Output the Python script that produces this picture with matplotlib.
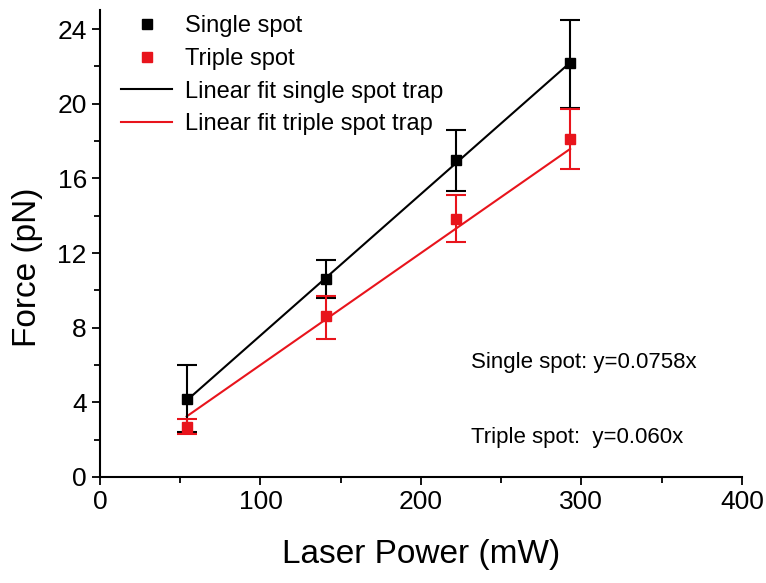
import numpy as np
import matplotlib.pyplot as plt
from matplotlib.lines import Line2D
from matplotlib.ticker import MultipleLocator

plt.rcParams['font.family'] = ['Liberation Sans Narrow', 'Liberation Sans', 'DejaVu Sans']

power = [54, 141, 222, 293]

single_force = [4.2, 10.6, 17.0, 22.2]
single_err_lo = [1.8, 1.0, 1.7, 2.4]
single_err_hi = [1.8, 1.0, 1.6, 2.3]

triple_force = [2.7, 8.6, 13.8, 18.1]
triple_err_lo = [0.4, 1.2, 1.2, 1.6]
triple_err_hi = [0.4, 1.1, 1.3, 1.6]

single_slope = 0.0758
triple_slope = 0.060

black = 'black'
red = '#e8141c'

fig = plt.figure(figsize=(7.66, 5.83), dpi=100)
ax = fig.add_axes([0.1305, 0.182, 0.838, 0.80])

fit_x = np.array([power[0], power[-1]])
ax.plot(fit_x, single_slope * fit_x, color=black, lw=1.5, zorder=2)
ax.plot(fit_x, triple_slope * fit_x, color=red, lw=1.5, zorder=2)

ax.errorbar(power, single_force, yerr=[single_err_lo, single_err_hi], fmt='s', color=black,
            ms=7, capsize=7, capthick=1.5, elinewidth=1.5, zorder=3)
ax.errorbar(power, triple_force, yerr=[triple_err_lo, triple_err_hi], fmt='s', color=red,
            ms=7, capsize=7, capthick=1.5, elinewidth=1.5, zorder=3)

ax.text(231, 6.15, 'Single spot: y=0.0758x', fontsize=16, va='center')
ax.text(231, 2.1, 'Triple spot:  y=0.060x', fontsize=16, va='center')

ax.set_xlim(0, 400)
ax.set_ylim(0, 25)
ax.xaxis.set_major_locator(MultipleLocator(100))
ax.xaxis.set_minor_locator(MultipleLocator(50))
ax.yaxis.set_major_locator(MultipleLocator(4))
ax.yaxis.set_minor_locator(MultipleLocator(2))
ax.tick_params(which='major', direction='out', length=6, width=1.3, labelsize=19)
ax.tick_params(which='minor', direction='out', length=4, width=1.3)
for side in ['top', 'right']:
    ax.spines[side].set_visible(False)
for side in ['left', 'bottom']:
    ax.spines[side].set_linewidth(1.5)

ax.set_xlabel('Laser Power (mW)', fontsize=24, labelpad=18)
ax.set_ylabel('Force (pN)', fontsize=24)
ax.yaxis.set_label_coords(-0.088, 0.45)

handles = [
    Line2D([], [], ls='none', marker='s', ms=7, color=black),
    Line2D([], [], ls='none', marker='s', ms=7, color=red),
    Line2D([], [], color=black, lw=1.5),
    Line2D([], [], color=red, lw=1.5),
]
labels = ['Single spot', 'Triple spot', 'Linear fit single spot trap', 'Linear fit triple spot trap']
ax.legend(handles, labels, loc='upper left', bbox_to_anchor=(0.01, 1.02), frameon=False,
          fontsize=17, handlelength=2.2, handletextpad=0.55, labelspacing=0.45, borderaxespad=0.2)

fig.savefig('out.png', dpi=100)
